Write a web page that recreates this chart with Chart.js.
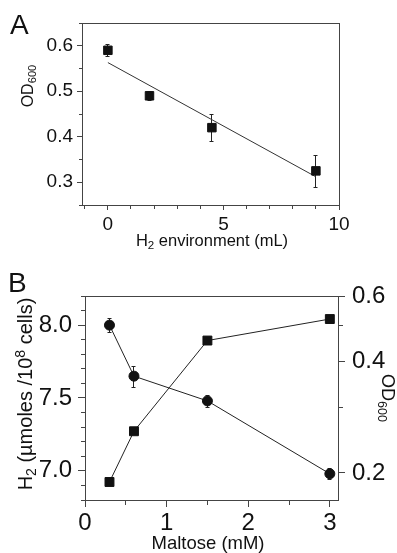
<!DOCTYPE html>
<html>
<head>
<meta charset="utf-8">
<script src="https://cdn.jsdelivr.net/npm/chart.js@4.4.1/dist/chart.umd.min.js"></script>
<style>
  html, body { margin: 0; padding: 0; background: #fff; }
  #wrap { position: relative; width: 397px; height: 553px; overflow: hidden; }
  canvas { position: absolute; left: 0; }
  #chart-a { top: 0; }
  #chart-b { top: 265px; }
  .panel-label {
    position: absolute;
    font-family: 'Liberation Sans', Arial, sans-serif;
    font-size: 28px;
    line-height: 28px;
    color: #111;
  }
</style>
</head>
<body>
<div id="wrap">
  <canvas id="chart-a" width="397" height="265"></canvas>
  <canvas id="chart-b" width="397" height="288"></canvas>
  <div class="panel-label" style="left:10px; top:11px;">A</div>
  <div class="panel-label" style="left:8px; top:269px;">B</div>
</div>
<script>
'use strict';

// panel A: OD600 vs H2 environment
const h2Volume = [0, 1.8, 4.5, 9];
const odA = [0.59, 0.49, 0.42, 0.325];
const odAErr = [0.013, 0.01, 0.029, 0.035];
const fitX = [0, 9];
const fitY = [0.563, 0.312];
const xTicksA = [-1, 0, 1, 2, 3, 4, 5, 6, 7, 8, 9, 10];
const xLabelsA = [0, 5, 10];
const yTicksA = [0.25, 0.3, 0.35, 0.4, 0.45, 0.5, 0.55, 0.6, 0.65];
const yLabelsA = [0.3, 0.4, 0.5, 0.6];

// panel B: H2 and OD600 vs maltose
const maltose = [0.3, 0.6, 1.5, 3.0];
const h2B = [8.0, 7.65, 7.48, 6.98];
const h2BErr = [0.05, 0.073, 0.043, 0.039];
const odB = [0.189, 0.259, 0.455, 0.52];
const xTicksB = [0, 0.5, 1, 1.5, 2, 2.5, 3];
const xLabelsB = [0, 1, 2, 3];
const yTicksB = [6.8, 6.9, 7.0, 7.1, 7.2, 7.3, 7.4, 7.5, 7.6, 7.7, 7.8, 7.9, 8.0, 8.1, 8.2];
const yLabelsB = [7.0, 7.5, 8.0];
const y1TicksB = [0.2, 0.3, 0.4, 0.5, 0.6];
const y1LabelsB = [0.2, 0.4, 0.6];

// axis titles, split so that sub/superscripts can be drawn smaller
const titleXA = [['H'], ['2', 'sub'], [' environment (mL)']];
const titleYA = [['OD'], ['600', 'sub']];
const titleXB = [['Maltose (mM)']];
const titleYB = [['H'], ['2', 'sub'], [' (\u00b5moles /10'], ['8', 'sup'], [' cells)']];
const titleY1B = [['OD'], ['600', 'sub']];

const AXIS = '#444';
const INK = '#111';
const FONT = "'Liberation Sans', Arial, sans-serif";
Chart.defaults.font.family = FONT;
Chart.defaults.color = INK;

function pts(xs, ys) {
  return xs.map(function (x, i) { return { x: x, y: ys[i] }; });
}

function fixTicks(list) {
  return function (scale) {
    scale.ticks = list.map(function (v) { return { value: v }; });
  };
}

// minor ticks are shortened with a dash pattern; direction depends on side
function tickDash(majors, side, len, minorLen) {
  return function (c) {
    if (!c.tick || majors.indexOf(c.tick.value) !== -1) return [];
    if (side === 'left') return [0, len - minorLen, 100];
    return [minorLen, 100];
  };
}

function axis(opts) {
  return {
    type: opts.type || 'linear',
    position: opts.position,
    min: opts.min,
    max: opts.max,
    afterBuildTicks: fixTicks(opts.ticks),
    afterFit: function (scale) {
      if (opts.position === 'bottom') scale.height = opts.size;
      else scale.width = opts.size;
    },
    border: { color: AXIS, width: 1 },
    grid: {
      drawOnChartArea: false,
      tickLength: opts.tickLength,
      tickColor: AXIS,
      tickWidth: 1,
      tickBorderDash: tickDash(opts.labels, opts.position, opts.tickLength, opts.minorLength),
    },
    ticks: {
      autoSkip: false,
      maxRotation: 0,
      minRotation: 0,
      padding: opts.padding,
      color: INK,
      font: { size: opts.fontSize },
      callback: function (value) {
        if (opts.labels.indexOf(value) === -1) return '';
        return opts.decimals ? value.toFixed(opts.decimals) : String(value);
      },
    },
    title: { display: false },
  };
}

// draws axis titles with smaller sub/superscript parts
function richTitles(list) {
  return {
    id: 'richTitles',
    afterDraw: function (chart) {
      const ctx = chart.ctx;
      list.forEach(function (t) {
        const small = t.size * 0.7;
        let total = 0;
        t.parts.forEach(function (p) {
          ctx.font = (p[1] ? small : t.size) + 'px ' + FONT;
          total += ctx.measureText(p[0]).width;
        });
        ctx.save();
        ctx.translate(t.x, t.y);
        ctx.rotate(t.rot || 0);
        ctx.fillStyle = INK;
        ctx.textBaseline = 'alphabetic';
        ctx.textAlign = 'left';
        let x = -total / 2;
        const base = t.size * 0.36;
        t.parts.forEach(function (p) {
          ctx.font = (p[1] ? small : t.size) + 'px ' + FONT;
          let dy = 0;
          if (p[1] === 'sub') dy = t.size * 0.2;
          if (p[1] === 'sup') dy = -t.size * 0.38;
          ctx.fillText(p[0], x, base + dy);
          x += ctx.measureText(p[0]).width;
        });
        ctx.restore();
      });
    },
  };
}

const errorBars = {
  id: 'errorBars',
  beforeDatasetsDraw: function (chart) {
    const ctx = chart.ctx;
    chart.data.datasets.forEach(function (ds, i) {
      if (!ds.errors) return;
      const meta = chart.getDatasetMeta(i);
      const yScale = chart.scales[meta.yAxisID];
      ctx.save();
      ctx.strokeStyle = '#222';
      ctx.lineWidth = 1;
      meta.data.forEach(function (el, j) {
        const v = ds.data[j].y;
        const e = ds.errors[j];
        const top = Math.round(yScale.getPixelForValue(v + e)) + 0.5;
        const bot = Math.round(yScale.getPixelForValue(v - e)) + 0.5;
        const x = Math.round(el.x - 0.5) + 0.5;
        ctx.beginPath();
        ctx.moveTo(x, top);
        ctx.lineTo(x, bot);
        ctx.moveTo(x - 2, top);
        ctx.lineTo(x + 2, top);
        ctx.moveTo(x - 2, bot);
        ctx.lineTo(x + 2, bot);
        ctx.stroke();
      });
      ctx.restore();
    });
  },
};

const frame = {
  id: 'frame',
  beforeDatasetsDraw: function (chart) {
    const a = chart.chartArea;
    const ctx = chart.ctx;
    const al = function (v) { return Math.round(v - 0.5) + 0.5; };
    ctx.save();
    ctx.strokeStyle = AXIS;
    ctx.lineWidth = 1;
    ctx.strokeRect(al(a.left), al(a.top), al(a.right) - al(a.left), al(a.bottom) - al(a.top));
    ctx.restore();
  },
};

const baseOptions = {
  responsive: false,
  animation: false,
  events: [],
  plugins: { legend: { display: false }, tooltip: { enabled: false } },
};

new Chart(document.getElementById('chart-a'), {
  type: 'scatter',
  data: {
    datasets: [
      {
        data: pts(h2Volume, odA),
        errors: odAErr,
        pointStyle: 'rect',
        pointRadius: 6,
        backgroundColor: INK,
        borderColor: INK,
        borderWidth: 1,
      },
      {
        data: pts(fitX, fitY),
        showLine: true,
        pointRadius: 0,
        borderColor: '#333',
        borderWidth: 1,
      },
    ],
  },
  options: Object.assign({}, baseOptions, {
    layout: { padding: { left: 0, right: 58, top: 23, bottom: 0 } },
    scales: {
      x: axis({
        position: 'bottom', min: -1.12, max: 10, ticks: xTicksA, labels: xLabelsA,
        size: 60, tickLength: 5, minorLength: 3, padding: 3, fontSize: 19,
      }),
      y: axis({
        position: 'left', min: 0.25, max: 0.65, ticks: yTicksA, labels: yLabelsA, decimals: 1,
        size: 82, tickLength: 5, minorLength: 3, padding: 4, fontSize: 19,
      }),
    },
  }),
  plugins: [frame, errorBars, richTitles([
    { parts: titleXA, size: 16.5, x: 212, y: 240 },
    { parts: titleYA, size: 16, x: 27, y: 86, rot: -Math.PI / 2 },
  ])],
});

new Chart(document.getElementById('chart-b'), {
  type: 'scatter',
  data: {
    datasets: [
      {
        data: pts(maltose, h2B),
        errors: h2BErr,
        yAxisID: 'y',
        showLine: true,
        pointStyle: 'circle',
        pointRadius: 5,
        backgroundColor: INK,
        borderColor: '#222',
        pointBorderColor: INK,
        borderWidth: 1,
      },
      {
        data: pts(maltose, odB),
        yAxisID: 'y1',
        showLine: true,
        pointStyle: 'rect',
        pointRadius: 6.3,
        backgroundColor: INK,
        borderColor: '#222',
        pointBorderColor: INK,
        borderWidth: 1,
      },
    ],
  },
  options: Object.assign({}, baseOptions, {
    layout: { padding: { left: 0, right: 0, top: 31, bottom: 0 } },
    scales: {
      x: axis({
        position: 'bottom', min: 0, max: 3.1, ticks: xTicksB, labels: xLabelsB,
        size: 53, tickLength: 7, minorLength: 4, padding: 2, fontSize: 24,
      }),
      y: axis({
        position: 'left', min: 6.8, max: 8.2, ticks: yTicksB, labels: yLabelsB, decimals: 1,
        size: 85, tickLength: 7, minorLength: 4, padding: 6, fontSize: 24,
      }),
      y1: axis({
        type: 'logarithmic', position: 'right', min: 0.169, max: 0.6, ticks: y1TicksB, labels: y1LabelsB, decimals: 1,
        size: 59, tickLength: 7, minorLength: 4, padding: 7, fontSize: 24,
      }),
    },
  }),
  plugins: [frame, errorBars, richTitles([
    { parts: titleXB, size: 18.5, x: 208, y: 277 },
    { parts: titleYB, size: 20, x: 25, y: 129, rot: -Math.PI / 2 },
    { parts: titleY1B, size: 18, x: 388, y: 133, rot: Math.PI / 2 },
  ])],
});
</script>
</body>
</html>
